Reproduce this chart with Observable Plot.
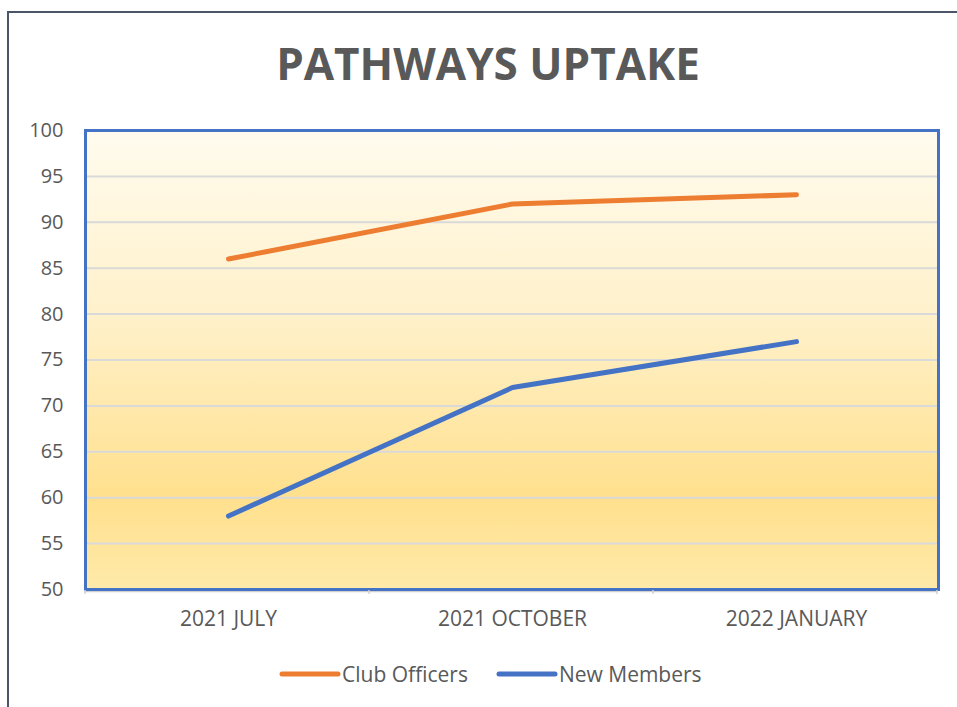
<!DOCTYPE html>
<html>
<head>
<meta charset="utf-8">
<script src="https://cdn.jsdelivr.net/npm/d3@7"></script>
<script src="https://cdn.jsdelivr.net/npm/@observablehq/plot@0.6"></script>
<style>
  html, body { margin: 0; padding: 0; background: #fff; }
  #wrap { position: relative; width: 957px; height: 707px; overflow: hidden; font-family: "Open Sans", sans-serif; }
  #border { position: absolute; left: 7px; top: 11px; width: 1000px; height: 800px; border-left: 2px solid #4a5568; border-top: 2px solid #4a5568; box-sizing: border-box; }
  #title { position: absolute; left: 0; width: 976px; top: 34px; text-align: center; font-size: 44px; font-weight: 700; color: #595959; line-height: 58px; }
  #chart { position: absolute; left: 0; top: 0; }
  #legend { position: absolute; top: 660px; left: 279px; display: flex; align-items: center; font-size: 21px; color: #595959; }
  #legend .item { display: flex; align-items: center; }
  #legend svg { display: block; }
</style>
</head>
<body>
<div id="wrap">
  <div id="border"></div>
  <div id="title">PATHWAYS UPTAKE</div>
  <div id="chart"></div>
  <div id="legend"></div>
</div>
<script>
const categories = ["2021 JULY", "2021 OCTOBER", "2022 JANUARY"];
const clubOfficers = [86, 92, 93];
const newMembers = [58, 72, 77];
const seriesNames = ["Club Officers", "New Members"];
const seriesColors = ["#ED7D31", "#4472C4"];
const yTicks = [50, 55, 60, 65, 70, 75, 80, 85, 90, 95, 100];

const data = [];
categories.forEach((c, i) => {
  data.push({period: c, value: clubOfficers[i], series: seriesNames[0]});
  data.push({period: c, value: newMembers[i], series: seriesNames[1]});
});

const defs = () => {
  const g = d3.create("svg:defs");
  const lg = g.append("linearGradient").attr("id", "bgGrad").attr("x1", 0).attr("y1", 0).attr("x2", 0).attr("y2", 1);
  lg.append("stop").attr("offset", "0%").attr("stop-color", "#FFFBEE");
  lg.append("stop").attr("offset", "40%").attr("stop-color", "#FFF1CB");
  lg.append("stop").attr("offset", "80%").attr("stop-color", "#FFE08D");
  lg.append("stop").attr("offset", "100%").attr("stop-color", "#FFEAAA");
  return g.node();
};

const plot = Plot.plot({
  width: 957,
  height: 707,
  marginLeft: 85,
  marginRight: 19,
  marginTop: 130,
  marginBottom: 118,
  style: { fontFamily: "Open Sans, sans-serif", fontSize: "20px", color: "#595959", background: "transparent" },
  x: { type: "band", domain: categories, padding: 0, label: null, tickSize: 0, tickPadding: 22 },
  y: { domain: [50, 100], ticks: yTicks, label: null, tickSize: 0, tickPadding: 22 },
  color: { domain: seriesNames, range: seriesColors },
  marks: [
    defs,
    Plot.frame({ fill: "url(#bgGrad)", stroke: "none" }),
    Plot.gridY(yTicks.filter(t => t > 50 && t < 100), { stroke: "#D9D9D9", strokeOpacity: 1, strokeWidth: 2 }),
    Plot.ruleY([50], { stroke: "#D0D0D0", strokeWidth: 1.5, dy: 2 }),
    Plot.frame({ stroke: "#4472C4", strokeWidth: 3 }),
    Plot.line(data, { x: "period", y: "value", z: "series", stroke: "series", strokeWidth: 5, strokeLinecap: "round", strokeLinejoin: "round" })
  ]
});

// category boundary ticks on the x axis, taken from the band scale
const xs = plot.scale("x");
const step = xs.step;
const r0 = xs.range[0];
const bounds = d3.range(categories.length + 1).map(i => r0 + i * step);
const yScale = plot.scale("y");
const yb = yScale.apply(50);
d3.select(plot).append("g").selectAll("line").data(bounds).join("line")
  .attr("x1", d => d).attr("x2", d => d)
  .attr("y1", yb + 1).attr("y2", yb + 5)
  .attr("stroke", "#D0D0D0").attr("stroke-width", 1.5);

d3.select(plot).selectAll("[aria-label='x-axis tick label'] text").attr("font-size", "21px");
d3.select(plot).selectAll("[aria-label='x-axis tick label'] text, [aria-label='y-axis tick label'] text").attr("fill", "#595959");

document.getElementById("chart").appendChild(plot);

// legend
const legend = d3.select("#legend");
seriesNames.forEach((name, i) => {
  const item = legend.append("div").attr("class", "item").style("margin-right", i === 0 ? "28px" : "0px");
  const s = item.append("svg").attr("width", 63).attr("height", 10);
  s.append("line").attr("x1", 3).attr("x2", 59).attr("y1", 5).attr("y2", 5)
    .attr("stroke", seriesColors[i]).attr("stroke-width", 5).attr("stroke-linecap", "round");
  item.append("span").text(name);
});
</script>
</body>
</html>
